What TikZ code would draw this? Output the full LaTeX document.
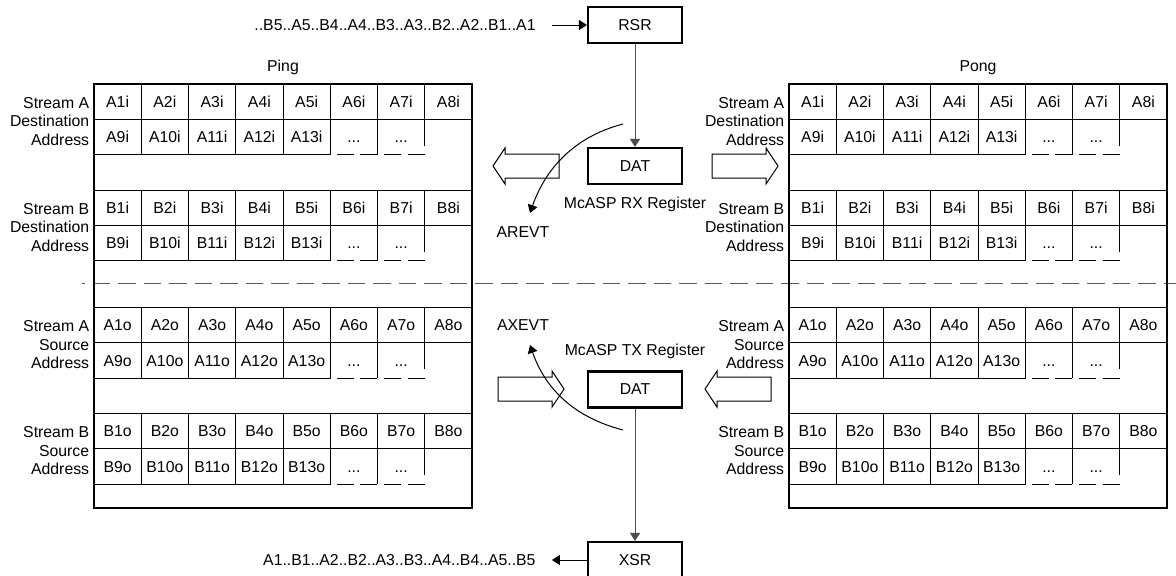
\documentclass[tikz,border=0pt]{standalone}
\usepackage{fontspec}
\setmainfont{Liberation Sans}
\usetikzlibrary{arrows.meta, positioning, calc}

\tikzset{
  regbox/.style={draw, line width=1.1pt, minimum width=47pt, minimum height=18pt, inner sep=0pt},
  tablebox/.style={draw, line width=1.1pt, minimum width=189pt, minimum height=212pt, inner sep=0pt},
  cell/.style={draw, line width=0.5pt, minimum width=23.625pt, minimum height=17.65pt, inner sep=0pt, text height=5.65pt, text depth=0pt},
  dots/.style={inner sep=0pt, text height=5.65pt, text depth=0pt},
  sidelbl/.style={anchor=east, align=right, inner sep=0pt},
  plain/.style={inner sep=0pt},
  arr/.style={-{Triangle[length=4pt,width=5pt]}, line width=0.5pt},
  vline/.style={draw=black!70},
  hollow/.style={draw, line width=0.5pt, fill=white},
  sepline/.style={black!65, line width=0.6pt, dash pattern=on 8.75pt off 4pt, dash phase=7.35pt},
  dotline/.style={line width=0.5pt, dash pattern=on 8.5pt off 3.3pt, dash phase=8.5pt},
  pics/hollowarrow/.style={code={
    \draw[hollow] (-66,-12) -- (-12,-12) -- (-12,-18) -- (0,0) -- (-12,18) -- (-12,12) -- (-66,12) -- cycle;}}
}

\begin{document}
\begin{tikzpicture}[x=0.5pt, y=-0.5pt, font=\fontsize{7.9pt}{9.25pt}\selectfont]
  \useasboundingbox (0,0) rectangle (1176,575);

  % split between receive and transmit halves
  \draw[sepline] (82,283.5) -- (1176,283.5);

  % ping and pong buffers
  \foreach \x/\nm/\ttl in {94/ping/Ping, 789/pong/Pong} {
    \node[tablebox] (\nm) at ({\x+189},296) {};
    \node[plain, above=4pt of \nm] (\nm-title) {\ttl};
    \foreach \ty/\st/\kind/\sfx in {84/A/Destination/i, 190/B/Destination/i, 307.5/A/Source/o, 413.5/B/Source/o} {
      \node[sidelbl] (\nm-lbl-\st\sfx) at ({\x-4.5},{\ty+37.5}) {Stream \st\\\kind\\Address};
      \foreach \k in {1,...,8}
        \node[cell] (\nm-\st\k\sfx) at ({\x+(\k-0.5)*47.25},{\ty+17.65}) {\st\k\sfx};
      \foreach \k [evaluate=\k as \j using int(\k+8)] in {1,...,5}
        \node[cell] (\nm-\st\j\sfx) at ({\x+(\k-0.5)*47.25},{\ty+52.95}) {\st\j\sfx};
      % open-ended cells
      \draw[line width=0.5pt] ({\x+6*47.25},{\ty+35.3}) -- ({\x+6*47.25},{\ty+70.6});
      \draw[line width=0.5pt] ({\x+7*47.25},{\ty+35.3}) -- ({\x+7*47.25},{\ty+61.6});
      \draw[dotline] ({\x+5*47.25},{\ty+70.6}) -- ({\x+7*47.25},{\ty+70.6});
      \node[dots] (\nm-\st\sfx-d1) at ({\x+5.5*47.25},{\ty+52.95}) {...};
      \node[dots] (\nm-\st\sfx-d2) at ({\x+6.5*47.25},{\ty+52.95}) {...};
    }
  }

  % serial registers and data registers
  \node[regbox] (rsr) at (635,25) {RSR};
  \node[regbox] (datrx) at (635,166) {DAT};
  \node[regbox] (dattx) at (635,389.5) {DAT};
  \node[regbox] (xsr) at (635,560) {XSR};
  \node[plain, below=6pt of datrx] (rxlbl) {McASP RX Register};
  \node[plain, above=5.6pt of dattx] (txlbl) {McASP TX Register};

  \node[inner ysep=0pt, inner xsep=8pt, left=17.5pt of rsr] (seqin) {..B5..A5..B4..A4..B3..A3..B2..A2..B1..A1};
  \node[inner ysep=0pt, inner xsep=8pt, left=17.5pt of xsr] (seqout) {A1..B1..A2..B2..A3..B3..A4..B4..A5..B5};

  \draw[arr] (seqin) -- (rsr);
  \draw[arr] (xsr) -- (seqout);
  \draw[arr, vline] (rsr) -- (datrx);
  \draw[arr, vline] (dattx) -- (xsr);

  % transfers to and from the buffers
  \pic[xscale=-1] at (493,166) {hollowarrow};
  \pic at (778,166) {hollowarrow};
  \pic at (564,389) {hollowarrow};
  \pic[xscale=-1] at (705,389) {hollowarrow};

  % events
  \coordinate (rxtap) at (623,124);
  \coordinate (rxtip) at (530,213);
  \coordinate (txtap) at (623,430);
  \coordinate (txtip) at (530,345);
  \node[plain] (arevt) at (523,232) {AREVT};
  \node[plain] (axevt) at (523,325) {AXEVT};
  \draw[arr] (rxtap) .. controls (573,137) and (545,170) .. (rxtip);
  \draw[arr] (txtap) .. controls (573,417) and (545,388) .. (txtip);
\end{tikzpicture}
\end{document}
